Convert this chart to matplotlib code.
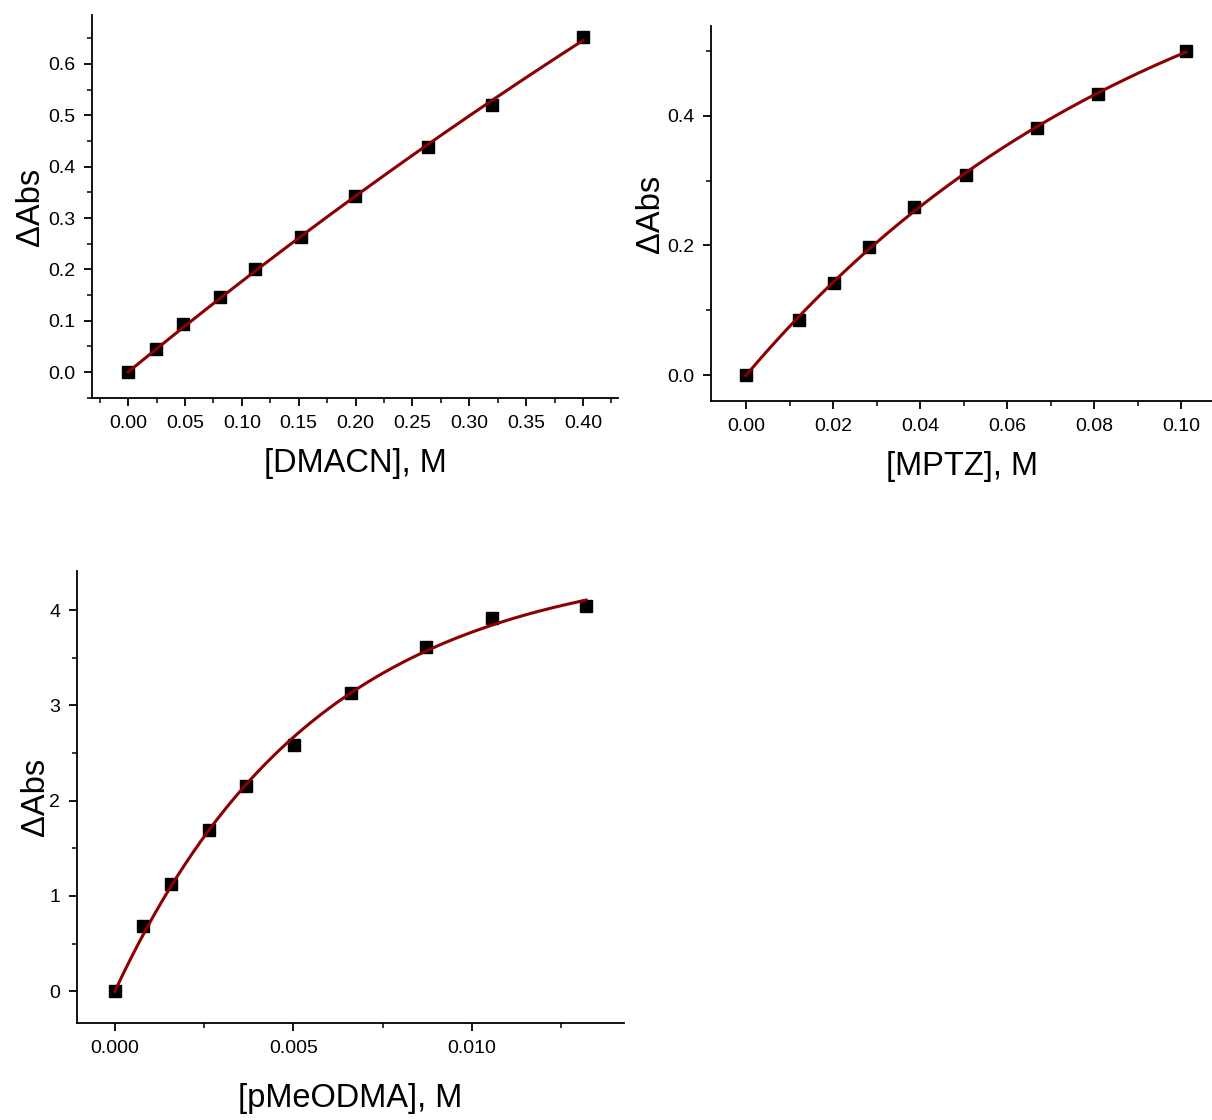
import matplotlib
matplotlib.use("Agg")
import matplotlib.pyplot as plt
import numpy as np
from matplotlib.ticker import MultipleLocator, FormatStrFormatter

plt.rcParams['font.family'] = ['Liberation Sans', 'DejaVu Sans']

# data
dmacn_x = [0.0, 0.0241, 0.0483, 0.0804, 0.1119, 0.1517, 0.1997, 0.2633, 0.3196, 0.3997]
dmacn_y = [0.0, 0.0441, 0.0933, 0.1465, 0.2009, 0.2638, 0.3429, 0.4381, 0.5198, 0.6526]

mptz_x = [0.0, 0.01215, 0.0202, 0.0282, 0.0385, 0.0505, 0.0668, 0.0809, 0.1011]
mptz_y = [0.0, 0.0847, 0.142, 0.197, 0.259, 0.309, 0.381, 0.434, 0.499]

pmeo_x = [0.0, 0.00079, 0.00158, 0.00264, 0.00368, 0.00501, 0.00660, 0.00871, 0.01056, 0.01320]
pmeo_y = [0.0, 0.681, 1.122, 1.691, 2.155, 2.589, 3.128, 3.611, 3.914, 4.045]


def fit_curve(x, y, kmax):
    # y = A*(1-exp(-k x)), grid over k, linear solve for A
    x = np.asarray(x)
    y = np.asarray(y)
    best = None
    for k in np.linspace(kmax / 5000, kmax, 5000):
        g = 1 - np.exp(-k * x)
        A = np.dot(g, y) / np.dot(g, g)
        err = np.sum((A * g - y) ** 2)
        if best is None or err < best[0]:
            best = (err, A, k)
    xs = np.linspace(x.min(), x.max(), 300)
    return xs, best[1] * (1 - np.exp(-best[2] * xs))


def style(ax, xmaj, ymaj, xfmt, yfmt):
    for s in ['top', 'right']:
        ax.spines[s].set_visible(False)
    for s in ['left', 'bottom']:
        ax.spines[s].set_linewidth(1.3)
    ax.xaxis.set_major_locator(MultipleLocator(xmaj))
    ax.xaxis.set_minor_locator(MultipleLocator(xmaj / 2))
    ax.yaxis.set_major_locator(MultipleLocator(ymaj))
    ax.yaxis.set_minor_locator(MultipleLocator(ymaj / 2))
    ax.xaxis.set_major_formatter(FormatStrFormatter(xfmt))
    ax.yaxis.set_major_formatter(FormatStrFormatter(yfmt))
    ax.tick_params(which='major', direction='out', length=6, width=1.3, labelsize=14, pad=6)
    ax.tick_params(which='minor', direction='out', length=3.5, width=1.1)


fig = plt.figure(figsize=(12.12, 11.2), dpi=100)
W, H = 1212.0, 1120.0

panels = [
    (dmacn_x, dmacn_y, (92, 15, 618, 398), (-0.0318, 0.4308), (-0.0506, 0.6954),
     0.05, 0.1, '%.2f', '%.1f', '[DMACN], M', -0.087, 50.0, 3.0),
    (mptz_x, mptz_y, (711, 26, 1212, 401), (-0.00805, 0.1071), (-0.0395, 0.538),
     0.02, 0.2, '%.2f', '%.1f', '[MPTZ], M', -0.09, 50.0, 30.0),
    (pmeo_x, pmeo_y, (77, 571, 624, 1023), (-0.00106, 0.01426), (-0.333, 4.41),
     0.005, 1, '%.3f', '%d', '[pMeODMA], M', -0.047, 60.0, 1000.0),
]

for x, y, box, xl, yl, xm, ym, xf, yf, xlab, ylx, xly, kmax in panels:
    l, t, r, b = box
    ax = fig.add_axes([l / W, 1 - b / H, (r - l) / W, (b - t) / H])
    xs, ys = fit_curve(x, y, kmax)
    ax.plot(x, y, 's', color='black', markersize=9, zorder=2)
    ax.plot(xs, ys, '-', color='#8b0000', linewidth=2.2, zorder=3)
    ax.set_xlim(*xl)
    ax.set_ylim(*yl)
    style(ax, xm, ym, xf, yf)
    ax.set_xlabel(xlab, fontsize=23.5)
    ax.set_ylabel('\u0394Abs', fontsize=23.5)
    ax.xaxis.set_label_coords(0.5, -xly / (b - t))
    ax.yaxis.set_label_coords(ylx, 0.5)

fig.savefig('out.png', dpi=100)
